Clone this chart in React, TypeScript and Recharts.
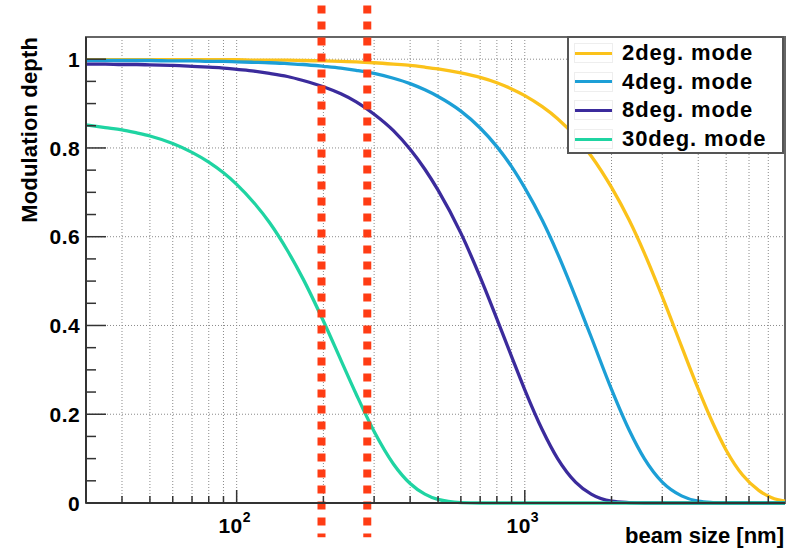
import {
  LineChart, Line, XAxis, YAxis, CartesianGrid, ReferenceLine, ReferenceArea, Legend,
} from 'recharts'

// beam size sample points [nm], log axis
const BEAM_SIZE_NM = [
  30, 35, 40, 45, 50, 60, 70, 80, 90, 100, 115, 130, 150, 170, 200, 230, 260, 300, 350, 400,
  450, 500, 600, 700, 800, 900, 1000, 1150, 1300, 1500, 1700, 2000, 2300, 2600, 3000, 3500,
  4000, 4500, 5000, 5700, 6500, 7200, 8000,
]

// modulation depth per crossing-angle mode
const DEPTH_2DEG = [
  0.999, 0.999, 0.999, 0.999, 0.999, 0.999, 0.999, 0.999, 0.999, 0.999, 0.998, 0.998, 0.998,
  0.997, 0.996, 0.995, 0.994, 0.992, 0.989, 0.986, 0.982, 0.978, 0.969, 0.959, 0.947, 0.933,
  0.918, 0.893, 0.866, 0.826, 0.782, 0.711, 0.638, 0.563, 0.465, 0.353, 0.257, 0.179, 0.119,
  0.063, 0.028, 0.012, 0.004,
]
const DEPTH_4DEG = [
  0.997, 0.997, 0.997, 0.997, 0.997, 0.996, 0.996, 0.995, 0.995, 0.994, 0.993, 0.992, 0.990,
  0.988, 0.984, 0.980, 0.975, 0.968, 0.957, 0.945, 0.931, 0.916, 0.883, 0.845, 0.803, 0.758,
  0.710, 0.637, 0.562, 0.464, 0.374, 0.256, 0.165, 0.100, 0.047, 0.016, 0.004, 0.001, 0,
  0, 0, 0, 0,
]
const DEPTH_8DEG = [
  0.989, 0.989, 0.988, 0.988, 0.987, 0.986, 0.984, 0.982, 0.980, 0.977, 0.973, 0.968, 0.961,
  0.952, 0.938, 0.922, 0.904, 0.876, 0.839, 0.797, 0.752, 0.705, 0.608, 0.509, 0.415, 0.330,
  0.255, 0.165, 0.100, 0.047, 0.020, 0.004, 0.001, 0, 0, 0, 0, 0, 0, 0, 0, 0, 0,
]
const DEPTH_30DEG = [
  0.852, 0.846, 0.841, 0.834, 0.827, 0.810, 0.790, 0.768, 0.744, 0.718, 0.676, 0.632, 0.569,
  0.505, 0.410, 0.322, 0.245, 0.161, 0.088, 0.044, 0.020, 0.008, 0.001, 0, 0, 0, 0, 0, 0, 0,
  0, 0, 0, 0, 0, 0, 0, 0, 0, 0, 0, 0, 0,
]

const MODE_NAMES = ['2deg. mode', '4deg. mode', '8deg. mode', '30deg. mode']
const MODE_KEYS = ['d2', 'd4', 'd8', 'd30']
const MODE_COLORS = ['#fbc21a', '#1c9fd6', '#3b2b9c', '#1fd4a2']

const X_TICKS = [
  40, 50, 60, 70, 80, 90, 100, 200, 300, 400, 500, 600, 700, 800, 900, 1000,
  2000, 3000, 4000, 5000, 6000, 7000,
]
const Y_TICKS = [
  0, 0.05, 0.1, 0.15, 0.2, 0.25, 0.3, 0.35, 0.4, 0.45, 0.5, 0.55, 0.6, 0.65, 0.7, 0.75,
  0.8, 0.85, 0.9, 0.95, 1,
]
const Y_GRID = [0.2, 0.4, 0.6, 0.8, 1]

// dashed red markers [nm]
const MARKER_NM = [197, 284]

const rows = BEAM_SIZE_NM.map((nm, i) => ({
  nm,
  d2: DEPTH_2DEG[i],
  d4: DEPTH_4DEG[i],
  d8: DEPTH_8DEG[i],
  d30: DEPTH_30DEG[i],
}))

const FONT = '"Liberation Sans", Arial, Helvetica, sans-serif'
const AXIS = '#333'

function XTick({ x, y, payload }: any) {
  const v = payload.value
  const major = v === 100 || v === 1000
  return (
    <g>
      <line x1={x} x2={x} y1={y} y2={y - (major ? 13 : 7)} stroke={AXIS} strokeWidth={1.5} />
      {major && (
        <text x={x - 2} y={y + 30} textAnchor="middle" fontFamily={FONT} fontWeight="bold"
          fontSize={21} letterSpacing={0.4} fill="#000">
          10<tspan dy={-11} fontSize={14}>{Math.round(Math.log10(v))}</tspan>
        </text>
      )}
    </g>
  )
}

function YTick({ x, y, payload }: any) {
  const v = payload.value
  const major = Math.round(v * 100) % 20 === 0
  const label = v === 0 ? '0' : v === 1 ? '1' : v.toFixed(1)
  return (
    <g>
      <line x1={x} x2={x + (major ? 20 : 10)} y1={y} y2={y} stroke={AXIS} strokeWidth={1.5} />
      {major && (
        <text x={x - 6} y={y} dy="0.36em" textAnchor="end" fontFamily={FONT} fontWeight="bold"
          fontSize={21} letterSpacing={0.4} fill="#000">
          {label}
        </text>
      )}
    </g>
  )
}

function LegendBox() {
  return (
    <div style={{
      width: 217, height: 118, boxSizing: 'border-box', border: '2px solid #555',
      background: '#fff', paddingTop: 1,
    }}>
      {MODE_NAMES.map((name, i) => (
        <div key={name} style={{ display: 'flex', alignItems: 'center', height: 28.6 }}>
          <div style={{
            marginLeft: 5, width: 39, height: 20, boxSizing: 'border-box',
            border: '1px solid #eee', display: 'flex', alignItems: 'center',
          }}>
            <div style={{ width: '100%', height: 3, background: MODE_COLORS[i] }} />
          </div>
          <span style={{
            marginLeft: 9, fontFamily: FONT, fontWeight: 'bold', fontSize: 22,
            letterSpacing: 0.9, color: '#000', lineHeight: 1,
          }}>
            {name}
          </span>
        </div>
      ))}
    </div>
  )
}

export default function App() {
  return (
    <div style={{ position: 'absolute', left: 0, top: 0, background: '#fff' }}>
      <LineChart width={797} height={552} data={rows}
        margin={{ top: 37, right: 12, bottom: 19, left: 0 }}>
        <CartesianGrid horizontal={false} stroke="#8a8a8a" strokeDasharray="1 2" />
        {Y_GRID.map((v) => (
          <ReferenceLine key={v} y={v} stroke="#8a8a8a" strokeDasharray="1 2" />
        ))}
        <ReferenceArea x1={30} x2={8000} y1={0} y2={1.05} fill="none" stroke="#666"
          strokeWidth={2} fillOpacity={0} />
        <XAxis dataKey="nm" type="number" scale="log" domain={[30, 8000]} ticks={X_TICKS}
          interval={0} tick={<XTick />} tickLine={false} tickSize={0} tickMargin={0}
          height={30} axisLine={{ stroke: AXIS, strokeWidth: 2 }}
          label={{
            content: () => (
              <text x={784} y={543} textAnchor="end" fontFamily={FONT} fontWeight="bold"
                fontSize={22} fill="#000">
                beam size [nm]
              </text>
            ),
          }} />
        <YAxis type="number" domain={[0, 1.05]} ticks={Y_TICKS} interval={0} width={86}
          tick={<YTick />} tickLine={false} tickSize={0} tickMargin={0}
          axisLine={{ stroke: AXIS, strokeWidth: 2 }}
          label={{
            content: () => (
              <text x={37} y={37} transform="rotate(-90 37 37)" textAnchor="end"
                fontFamily={FONT} fontWeight="bold" fontSize={22} letterSpacing={0.15} fill="#000">
                Modulation depth
              </text>
            ),
          }} />
        {MODE_KEYS.map((k, i) => (
          <Line key={k} dataKey={k} name={MODE_NAMES[i]} type="monotone" stroke={MODE_COLORS[i]}
            strokeWidth={3.3} dot={false} isAnimationActive={false} />
        ))}
        <Legend layout="horizontal" verticalAlign="middle" align="center" content={<LegendBox />}
          wrapperStyle={{ position: 'absolute', left: 567, top: 36, width: 217, height: 118 }} />
        {MARKER_NM.map((nm) => (
          <ReferenceLine key={nm} ifOverflow="visible"
            segment={[{ x: nm, y: 1.121 }, { x: nm, y: -0.077 }]}
            stroke="#ff3c14" strokeWidth={8} strokeDasharray="8 8" />
        ))}
      </LineChart>
    </div>
  )
}
